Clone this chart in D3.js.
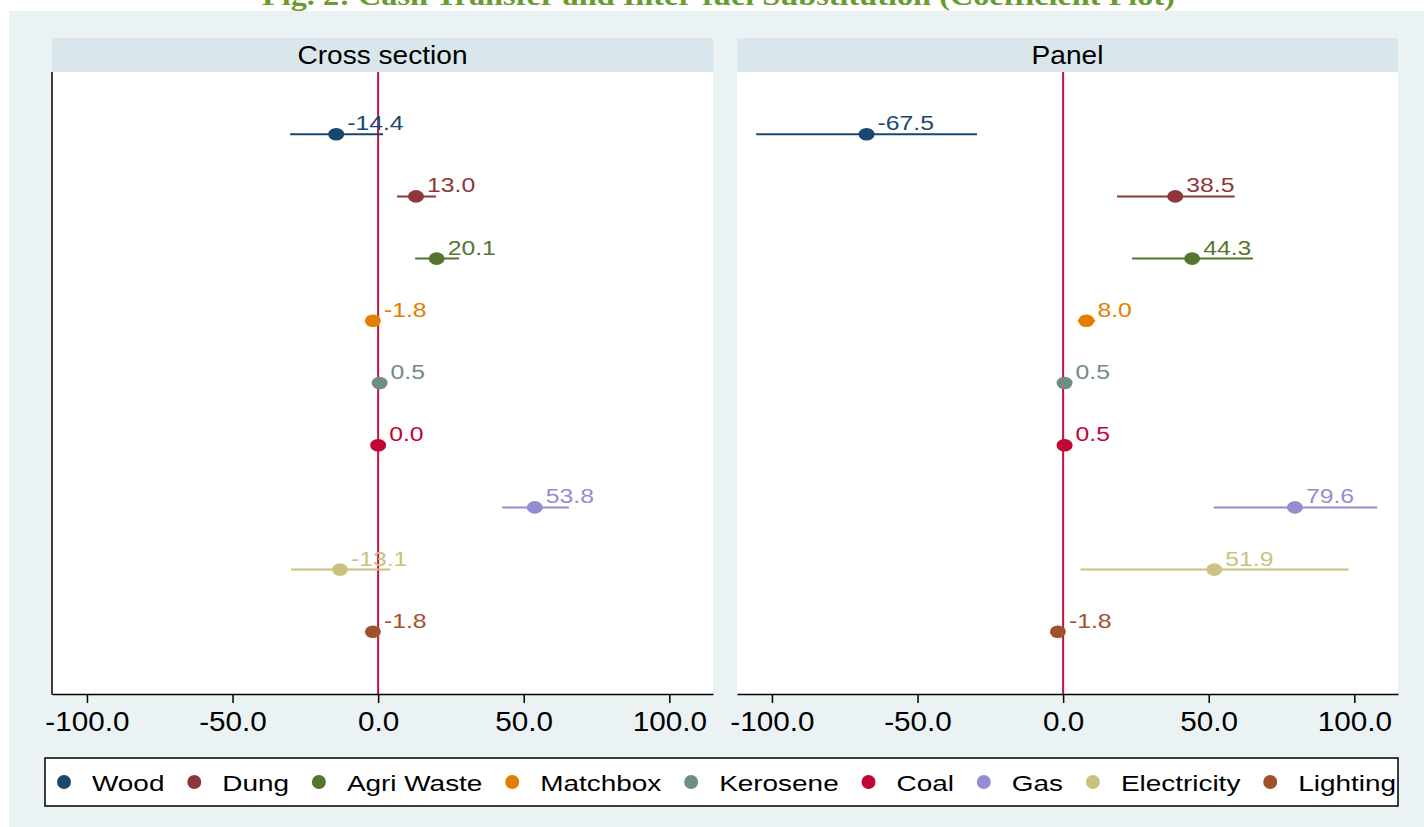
<!DOCTYPE html>
<html>
<head>
<meta charset="utf-8">
<title>Cash transfer and inter-fuel substitution</title>
<script src="https://cdn.jsdelivr.net/npm/d3@7"></script>
<style>
    body { margin: 0; background: #ffffff; }
    text { font-family: "Liberation Sans", Arial, sans-serif; }
</style>
</head>
<body>
<script>

// fuels, top to bottom
var fuels = ["Wood", "Dung", "Agri Waste", "Matchbox", "Kerosene", "Coal", "Gas", "Electricity", "Lighting"];
var fuelColors = ["#1a476f", "#90353b", "#55752f", "#e37e00", "#6e8e84", "#c10534", "#938dd2", "#cac27e", "#a0522d"];

var panelNames = ["Cross section", "Panel"];

// cross section estimates with 95% CI
var crossCoef = [-14.4, 13.0, 20.1, -1.8, 0.5, 0.0, 53.8, -13.1, -1.8];
var crossLo   = [-30.2, 6.5, 12.7, -3.0, -0.3, -0.8, 42.6, -29.9, -2.8];
var crossHi   = [1.7, 19.9, 27.8, -0.6, 1.3, 0.8, 65.5, 4.1, -0.8];

// panel estimates with 95% CI
var panelCoef = [-67.5, 38.5, 44.3, 8.0, 0.5, 0.5, 79.6, 51.9, -1.8];
var panelLo   = [-105.4, 18.5, 23.7, 5.1, -0.3, -0.3, 51.7, 6.0, -2.6];
var panelHi   = [-29.6, 58.9, 65.2, 11.0, 1.3, 1.3, 107.9, 98.0, -1.0];

var xTicks = [-100, -50, 0, 50, 100];
var xDomain = [-112, 115];

var width = 1424,
    height = 827;

// the exported graph is stretched sideways a little
var SX = 1.27;

var svg = d3.select("body").append("svg")
    .attr("width", width)
    .attr("height", height);

// cut-off figure title at the very top
svg.append("text")
    .attr("x", 262)
    .attr("y", 5)
    .attr("textLength", 913)
    .attr("lengthAdjust", "spacingAndGlyphs")
    .style("font-family", "'Liberation Serif', serif")
    .style("font-weight", "bold")
    .style("font-size", "27px")
    .attr("fill", "#6b9a2f")
    .text("Fig. 2: Cash Transfer and Inter-fuel Substitution (Coefficient Plot)");

// graph region
svg.append("rect")
    .attr("x", 9).attr("y", 11)
    .attr("width", width - 9).attr("height", height - 11)
    .attr("fill", "#eaf2f3");

var plotTop = 72, plotBottom = 694, stripTop = 38;

var y = d3.scalePoint()
    .domain(fuels)
    .range([plotTop, plotBottom])
    .padding(1);

var panels = [
    { name: panelNames[0], x0: 52, x1: 713, coef: crossCoef, lo: crossLo, hi: crossHi, yaxis: true },
    { name: panelNames[1], x0: 737, x1: 1398, coef: panelCoef, lo: panelLo, hi: panelHi, yaxis: false }
];

function stretchText(parent, x, yy, str, size, color, anchor, sx) {
    return parent.append("g")
        .attr("transform", "translate(" + x + "," + yy + ") scale(" + (sx || SX) + ",1)")
      .append("text")
        .attr("text-anchor", anchor || "start")
        .style("font-size", size + "px")
        .attr("fill", color)
        .text(str);
}

panels.forEach(function(p) {
    var g = svg.append("g");

    var x = d3.scaleLinear()
        .domain(xDomain)
        .range([p.x0, p.x1]);

    // strip
    g.append("rect")
        .attr("x", p.x0).attr("y", stripTop)
        .attr("width", p.x1 - p.x0).attr("height", plotTop - stripTop)
        .attr("fill", "#d9e6eb");
    stretchText(g, (p.x0 + p.x1) / 2, 64, p.name, 26, "#000", "middle", 1.08);

    // plot region
    g.append("rect")
        .attr("x", p.x0).attr("y", plotTop)
        .attr("width", p.x1 - p.x0).attr("height", plotBottom - plotTop)
        .attr("fill", "#ffffff");

    // zero line
    g.append("line")
        .attr("x1", x(0)).attr("x2", x(0))
        .attr("y1", plotTop).attr("y2", plotBottom)
        .attr("stroke", "#c8103e")
        .attr("stroke-width", 2);

    // x axis
    var ax = g.append("g")
        .attr("transform", "translate(0," + plotBottom + ")")
        .call(d3.axisBottom(x)
            .tickValues(xTicks)
            .tickFormat(function(d) { return d.toFixed(1); })
            .tickSize(9)
            .tickSizeOuter(0)
            .tickPadding(6));
    ax.select(".domain").attr("stroke", "#000").attr("stroke-width", 1.5);
    ax.selectAll(".tick line").attr("stroke", "#000").attr("stroke-width", 1.5);
    ax.selectAll(".tick text")
        .attr("fill", "#000")
        .attr("transform", "scale(1.1,1)")
        .attr("dy", "0.81em")
        .style("font-size", "27px")
        .style("font-family", "'Liberation Sans', Arial, sans-serif");

    if (p.yaxis) {
        g.append("line")
            .attr("x1", p.x0).attr("x2", p.x0)
            .attr("y1", plotTop).attr("y2", plotBottom + 0.75)
            .attr("stroke", "#000")
            .attr("stroke-width", 1.5);
    }

    var rows = fuels.map(function(f, i) {
        return { fuel: f, color: fuelColors[i], coef: p.coef[i], lo: p.lo[i], hi: p.hi[i] };
    });

    // confidence intervals
    g.selectAll(".ci")
        .data(rows).enter()
        .append("line")
        .attr("class", "ci")
        .attr("x1", function(d) { return x(d.lo); })
        .attr("x2", function(d) { return x(d.hi); })
        .attr("y1", function(d) { return y(d.fuel); })
        .attr("y2", function(d) { return y(d.fuel); })
        .attr("stroke", function(d) { return d.color; })
        .attr("stroke-width", 2);

    // point estimates
    g.selectAll(".pt")
        .data(rows).enter()
        .append("ellipse")
        .attr("class", "pt")
        .attr("cx", function(d) { return x(d.coef); })
        .attr("cy", function(d) { return y(d.fuel); })
        .attr("rx", 8)
        .attr("ry", 6.3)
        .attr("fill", function(d) { return d.color; });

    // value labels
    rows.forEach(function(d) {
        stretchText(g, x(d.coef) + 11, y(d.fuel) - 4, d.coef.toFixed(1), 19.5, d.color);
    });
});

// legend
var leg = svg.append("g");
leg.append("rect")
    .attr("x", 45).attr("y", 758)
    .attr("width", 1398 - 45).attr("height", 48)
    .attr("fill", "#ffffff")
    .attr("stroke", "#000")
    .attr("stroke-width", 1.5);

var legStart = 64, legEnd = 1396, keyGap = 28;
var items = fuels.map(function(f, i) {
    var c = leg.append("circle")
        .attr("cy", 782)
        .attr("r", 7)
        .attr("fill", fuelColors[i]);
    var t = stretchText(leg, 0, 791, f, 22, "#000");
    return { c: c, t: t, w: t.node().getComputedTextLength() * SX };
});
var totalW = d3.sum(items, function(d) { return d.w + keyGap; });
var gap = (legEnd - legStart - totalW) / (items.length - 1);
var lx = legStart;
items.forEach(function(d) {
    d.c.attr("cx", lx);
    d3.select(d.t.node().parentNode)
        .attr("transform", "translate(" + (lx + keyGap) + ",791) scale(" + SX + ",1)");
    lx = lx + keyGap + d.w + gap;
});

</script>
</body>
</html>
